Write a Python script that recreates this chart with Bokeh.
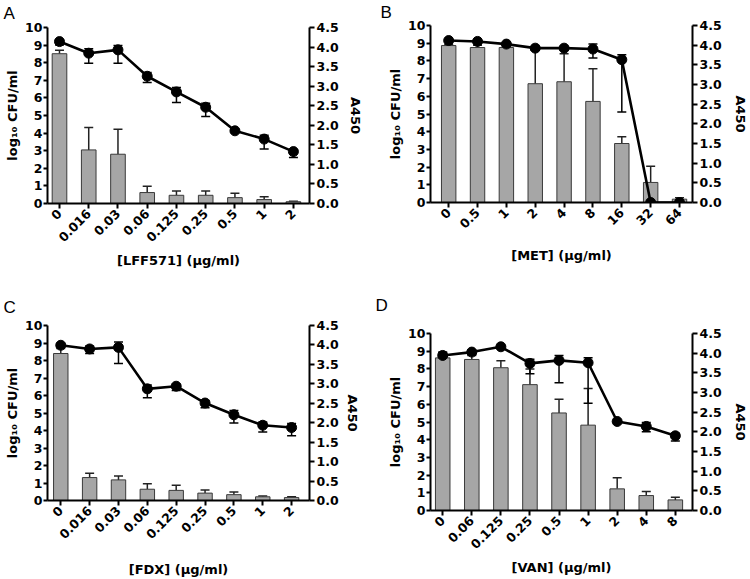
import math
from bokeh.plotting import figure
from bokeh.models import (Range1d, LinearAxis, FixedTicker, Whisker, ColumnDataSource,
                          TeeHead, PrintfTickFormatter)
from bokeh.layouts import row, column
from bokeh.embed import file_html
from bokeh.resources import INLINE

# ---------------- data ----------------
# Panel A: LFF571
a_conc = ["0", "0.016", "0.03", "0.06", "0.125", "0.25", "0.5", "1", "2"]
a_cfu = [9.2, 8.54, 8.73, 7.23, 6.34, 5.47, 4.13, 3.66, 2.95]
a_cfu_hi = [9.3, 8.79, 8.98, 7.44, 6.59, 5.70, 4.20, 3.88, 3.05]
a_cfu_lo = [9.0, 7.97, 7.97, 6.87, 5.74, 4.94, 4.05, 3.09, 2.61]
a_a450 = [3.83, 1.37, 1.26, 0.28, 0.21, 0.21, 0.15, 0.10, 0.045]
a_a450_sd = [0.09, 0.57, 0.64, 0.16, 0.11, 0.11, 0.11, 0.07, 0.015]

# Panel B: MET
b_conc = ["0", "0.5", "1", "2", "4", "8", "16", "32", "64"]
b_cfu = [9.15, 9.1, 8.95, 8.72, 8.72, 8.67, 8.07, 0.0, 0.0]
b_cfu_hi = [9.2, 9.15, 9.0, 8.8, 8.8, 8.95, 8.35, 0.0, 0.0]
b_cfu_lo = [9.1, 9.05, 8.9, 8.6, 8.6, 8.16, 5.12, 0.0, 0.0]
b_a450 = [3.99, 3.94, 3.94, 3.02, 3.07, 2.57, 1.50, 0.51, 0.085]
b_a450_sd = [0.02, 0.06, 0.03, 0.85, 0.71, 0.83, 0.17, 0.41, 0.035]

# Panel C: FDX
c_conc = ["0", "0.016", "0.03", "0.06", "0.125", "0.25", "0.5", "1", "2"]
c_cfu = [8.87, 8.66, 8.75, 6.38, 6.53, 5.57, 4.9, 4.3, 4.17]
c_cfu_hi = [8.97, 8.83, 9.06, 6.6, 6.64, 5.72, 5.15, 4.49, 4.4]
c_cfu_lo = [8.77, 8.40, 7.83, 5.87, 6.28, 5.3, 4.43, 3.92, 3.7]
c_a450 = [3.78, 0.59, 0.53, 0.29, 0.26, 0.19, 0.15, 0.095, 0.075]
c_a450_sd = [0.13, 0.11, 0.10, 0.14, 0.13, 0.08, 0.07, 0.02, 0.02]

# Panel D: VAN
d_conc = ["0", "0.06", "0.125", "0.25", "0.5", "1", "2", "4", "8"]
d_cfu = [8.76, 8.95, 9.25, 8.31, 8.48, 8.35, 5.03, 4.75, 4.22]
d_cfu_hi = [8.95, 9.06, 9.3, 8.54, 8.76, 8.63, 5.08, 4.97, 4.37]
d_cfu_lo = [8.6, 8.82, 9.2, 7.73, 7.22, 6.06, 4.98, 4.45, 3.92]
d_a450 = [3.88, 3.84, 3.63, 3.2, 2.48, 2.17, 0.55, 0.38, 0.27]
d_a450_sd = [0.13, 0.10, 0.18, 0.40, 0.35, 0.93, 0.28, 0.10, 0.07]

left_ticks = [0, 1, 2, 3, 4, 5, 6, 7, 8, 9, 10]
right_ticks = [0, 0.5, 1.0, 1.5, 2.0, 2.5, 3.0, 3.5, 4.0, 4.5]

FONT = "DejaVu Sans"
BAR_FILL = "#a6a6a6"


def style_axis(ax, label_size="12.5px"):
    ax.axis_line_width = 2
    ax.axis_line_color = "black"
    ax.major_tick_line_width = 2
    ax.major_tick_line_color = "black"
    ax.major_tick_out = 5
    ax.major_tick_in = 0
    ax.minor_tick_line_color = None
    ax.major_label_text_font = FONT
    ax.major_label_text_font_style = "bold"
    ax.major_label_text_font_size = label_size
    ax.major_label_text_color = "black"
    ax.axis_label_text_font = FONT
    ax.axis_label_text_font_style = "bold"
    ax.axis_label_text_color = "black"


def panel(letter, conc, cfu, cfu_lo, cfu_hi, a450, a450_sd, xlabel,
          width, height, bl, br, bt, bb, pad_l, pad_r, xstand, rstand,
          t_offset, t_standoff, t_valign="top"):
    n = len(conc)
    xs = list(range(n))
    p = figure(width=width, height=height, output_backend="svg", toolbar_location=None,
               x_range=Range1d(-pad_l, n - 1 + pad_r), y_range=Range1d(0, 10),
               min_border_left=bl, min_border_right=br, min_border_top=bt,
               min_border_bottom=bb, title=letter)
    p.extra_y_ranges = {"a450": Range1d(0, 4.5)}
    p.outline_line_color = None
    p.xgrid.visible = False
    p.ygrid.visible = False
    p.background_fill_color = "white"
    p.border_fill_color = "white"

    # panel letter
    p.title.align = "left"
    p.title.vertical_align = t_valign
    p.title.offset = t_offset
    p.title.standoff = t_standoff
    p.title.text_font = "Liberation Sans"
    p.title.text_font_style = "normal"
    p.title.text_font_size = "17px"
    p.title.text_line_height = 1.0
    p.title.text_color = "black"

    # bars (A450, right axis)
    p.vbar(x=xs, top=a450, width=0.5, bottom=0, y_range_name="a450",
           fill_color=BAR_FILL, line_color="#3a3a3a", line_width=1)
    bsrc = ColumnDataSource(dict(x=xs, lo=a450,
                                 hi=[m + s for m, s in zip(a450, a450_sd)]))
    p.add_layout(Whisker(source=bsrc, base="x", lower="lo", upper="hi",
                         dimension="height", y_range_name="a450",
                         line_color="#222222", line_width=1.5,
                         lower_head=None,
                         upper_head=TeeHead(size=9, line_color="#222222", line_width=1.5)))

    # line (log10 CFU/ml, left axis)
    p.line(xs, cfu, line_width=2.6, line_color="black")
    lsrc = ColumnDataSource(dict(x=xs, lo=cfu_lo, hi=cfu_hi))
    p.add_layout(Whisker(source=lsrc, base="x", lower="lo", upper="hi",
                         dimension="height", line_color="black", line_width=1.5,
                         lower_head=TeeHead(size=9, line_color="black", line_width=1.5),
                         upper_head=TeeHead(size=9, line_color="black", line_width=1.5)))
    p.scatter(xs, cfu, size=10, marker="circle", fill_color="black", line_color="black")

    # left axis
    ya = p.yaxis[0]
    ya.ticker = FixedTicker(ticks=left_ticks)
    style_axis(ya, "12.5px")
    ya.major_tick_out = 4
    ya.major_label_standoff = 1
    ya.axis_label = "log\u2081\u2080 CFU/ml"
    ya.axis_label_text_font_size = "13px"
    ya.axis_label_standoff = 2

    # right axis
    ra = LinearAxis(y_range_name="a450", ticker=FixedTicker(ticks=right_ticks),
                    formatter=PrintfTickFormatter(format="%.1f"), axis_label="A450")
    style_axis(ra, "12.5px")
    ra.major_label_standoff = 2
    ra.axis_label_text_font_size = "13px"
    ra.axis_label_standoff = rstand
    p.add_layout(ra, "right")

    # x axis
    xa = p.xaxis[0]
    xa.ticker = FixedTicker(ticks=xs)
    xa.major_label_overrides = {i: c for i, c in zip(xs, conc)}
    style_axis(xa, "12.5px")
    xa.major_label_orientation = math.pi / 4
    xa.major_label_standoff = 3
    xa.axis_label = xlabel
    xa.axis_label_text_font_size = "13px"
    xa.axis_label_standoff = xstand
    return p


pA = panel("A", a_conc, a_cfu, a_cfu_lo, a_cfu_hi, a_a450, a_a450_sd, "[LFF571] (\u03bcg/ml)",
           375, 290, 47, 66, 27, 87, 0.41, 0.55, 4, 6, -44, 6)
pB = panel("B", b_conc, b_cfu, b_cfu_lo, b_cfu_hi, b_a450, b_a450_sd, "[MET] (\u03bcg/ml)",
           375, 290, 53, 55, 25, 88, 0.63, 0.45, 12, 8, -50, 4)
pC = panel("C", c_conc, c_cfu, c_cfu_lo, c_cfu_hi, c_a450, c_a450_sd, "[FDX] (\u03bcg/ml)",
           375, 289, 46, 64, 35, 77, 0.46, 0.62, 16, 3, -44, 14)
pD = panel("D\n ", d_conc, d_cfu, d_cfu_lo, d_cfu_hi, d_a450, d_a450_sd, "[VAN] (\u03bcg/ml)",
           375, 289, 55, 55, 43, 69, 0.42, 0.59, 4, 8, -55, 0, "bottom")

layout = row(column(pA, pC), column(pB, pD))
open("out.html", "w").write(file_html(layout, INLINE))
